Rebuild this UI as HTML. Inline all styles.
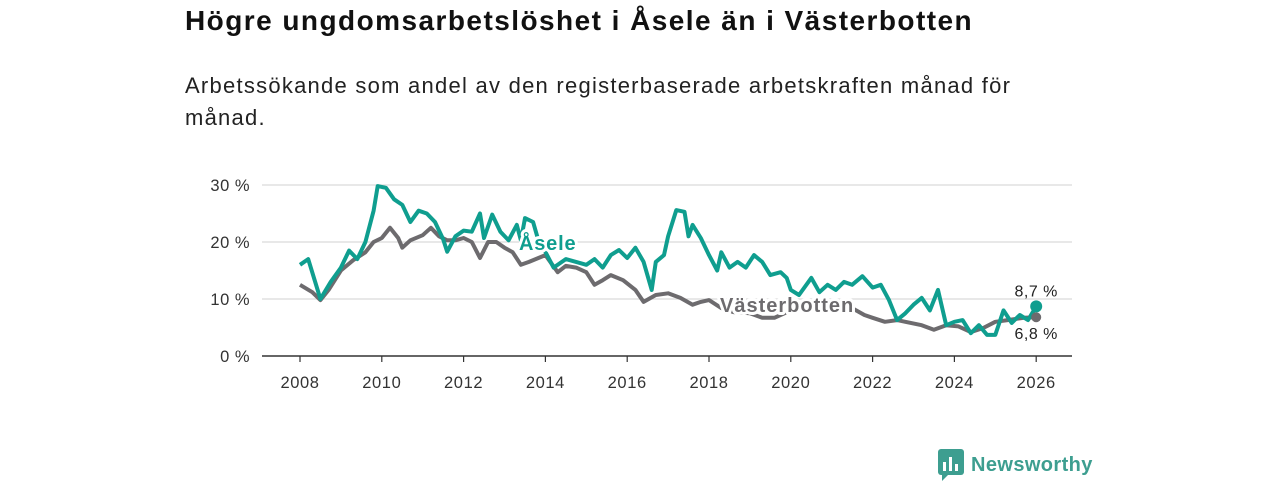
<!DOCTYPE html>
<html><head><meta charset="utf-8"><style>
body{margin:0;width:1280px;height:480px;background:#fff;font-family:"Liberation Sans","DejaVu Sans",sans-serif;overflow:hidden;position:relative}
h1{position:absolute;left:185px;top:5px;margin:0;font-size:28px;font-weight:bold;color:#111;letter-spacing:1.45px;white-space:nowrap}
p.sub{position:absolute;left:185px;top:70px;margin:0;font-size:22px;line-height:32px;color:#222;width:860px;letter-spacing:1.25px}
svg{position:absolute;left:0;top:0}
</style></head><body>
<h1>Högre ungdomsarbetslöshet i Åsele än i Västerbotten</h1>
<p class="sub">Arbetssökande som andel av den registerbaserade arbetskraften månad för månad.</p>
<svg id="chart" width="1280" height="480"></svg>
<script>
const yTicks=[0,10,20,30];
const yTickLabels=["0 %","10 %","20 %","30 %"];
const xTicks=[2008,2010,2012,2014,2016,2018,2020,2022,2024,2026];
const aseleT=[2008.0,2008.2,2008.5,2008.75,2009.0,2009.2,2009.4,2009.6,2009.8,2009.9,2010.1,2010.3,2010.5,2010.7,2010.9,2011.1,2011.3,2011.5,2011.6,2011.8,2012.0,2012.2,2012.4,2012.5,2012.7,2012.9,2013.1,2013.3,2013.4,2013.5,2013.7,2013.8,2014.2,2014.5,2014.75,2015.0,2015.2,2015.4,2015.6,2015.8,2016.0,2016.2,2016.4,2016.6,2016.7,2016.9,2017.0,2017.2,2017.4,2017.5,2017.6,2017.8,2018.0,2018.2,2018.3,2018.5,2018.7,2018.9,2019.1,2019.3,2019.5,2019.75,2019.9,2020.0,2020.2,2020.5,2020.7,2020.9,2021.1,2021.3,2021.5,2021.75,2022.0,2022.2,2022.4,2022.6,2022.8,2023.0,2023.2,2023.4,2023.6,2023.8,2024.0,2024.2,2024.4,2024.6,2024.8,2025.0,2025.2,2025.4,2025.6,2025.8,2026.0];
const aseleV=[16,17,10,13,15.5,18.5,17,20,25.5,29.8,29.5,27.5,26.5,23.5,25.5,25,23.5,20.5,18.3,21,22,21.8,25,20.7,24.8,21.8,20.3,23,20.3,24.2,23.5,21,15.5,17,16.5,16,17,15.5,17.7,18.6,17.2,19,16.5,11.6,16.5,17.7,21,25.6,25.3,21,23,20.7,17.7,15,18.2,15.5,16.5,15.5,17.7,16.5,14.2,14.7,13.7,11.6,10.7,13.7,11.2,12.5,11.6,13,12.5,14,12,12.5,9.8,6.3,7.5,9,10.2,8,11.6,5.4,6,6.3,4,5.4,3.7,3.7,8,5.8,7.2,6.3,8.7];
const vbT=[2008.0,2008.3,2008.5,2008.7,2009.0,2009.3,2009.6,2009.8,2010.0,2010.2,2010.4,2010.5,2010.7,2011.0,2011.2,2011.4,2011.6,2011.8,2012.0,2012.2,2012.4,2012.6,2012.8,2013.0,2013.2,2013.4,2013.6,2014.0,2014.3,2014.5,2014.75,2015.0,2015.2,2015.4,2015.6,2015.9,2016.2,2016.4,2016.7,2017.0,2017.3,2017.6,2017.8,2018.0,2018.3,2018.6,2019.0,2019.3,2019.6,2020.0,2020.5,2021.0,2021.5,2021.8,2022.0,2022.3,2022.6,2022.8,2023.2,2023.5,2023.8,2024.1,2024.4,2024.7,2025.0,2025.3,2025.7,2026.0];
const vbV=[12.5,11.2,9.8,11.6,15,16.8,18.2,20,20.7,22.5,20.7,19,20.3,21.2,22.5,21,20.3,20.3,20.7,20,17.2,20,20,19,18.2,16,16.5,17.7,14.7,15.8,15.5,14.7,12.5,13.3,14.2,13.3,11.6,9.5,10.7,11,10.2,9,9.5,9.8,8.4,7.7,7.5,6.7,6.7,8,9,9,8.4,7.2,6.7,6,6.3,6,5.4,4.6,5.4,5.2,4.2,4.9,6,6.3,6.7,6.8];
const NS="http://www.w3.org/2000/svg";
const svg=document.getElementById('chart');
const X=t=>300+(t-2008)*40.9, Y=v=>356-v*5.7;
function mk(tag,attrs){const e=document.createElementNS(NS,tag);for(const k in attrs)e.setAttribute(k,attrs[k]);svg.appendChild(e);return e;}
yTicks.forEach((v,i)=>{
 if(v>0){const g=mk('line',{x1:262,x2:1072,y1:Y(v),y2:Y(v),stroke:'#d9d9d9','stroke-width':1.3});
 
 }
 const t=mk('text',{x:250,y:Y(v)+6,'text-anchor':'end','font-size':16.5,fill:'#333','letter-spacing':0.5});t.textContent=yTickLabels[i];
 
 
});
const ax=mk('line',{x1:262,x2:1072,y1:356,y2:356,stroke:'#333','stroke-width':1.5});


xTicks.forEach(yr=>{
 const tk=mk('line',{x1:X(yr),x2:X(yr),y1:356,y2:362,stroke:'#333','stroke-width':1.2});
 
 
 const t=mk('text',{x:X(yr),y:388,'text-anchor':'middle','font-size':16.5,fill:'#333','letter-spacing':0.6});t.textContent=yr;
 
 
});
function path(T,V){return T.map((t,i)=>(i?'L':'M')+X(t).toFixed(1)+','+Y(V[i]).toFixed(1)).join('');}
const l2=mk('path',{d:path(vbT,vbV),fill:'none',stroke:'#6d6b6e','stroke-width':4,'stroke-linejoin':'round'});


const l1=mk('path',{d:path(aseleT,aseleV),fill:'none',stroke:'#0f9e8f','stroke-width':4,'stroke-linejoin':'round'});


const la=aseleV.length-1,lv=vbV.length-1;
const d2=mk('circle',{cx:X(vbT[lv]),cy:Y(vbV[lv]),r:5,fill:'#6d6b6e'});


const d1=mk('circle',{cx:X(aseleT[la]),cy:Y(aseleV[la]),r:6,fill:'#0f9e8f'});


const e1=mk('text',{x:X(aseleT[la]),y:Y(aseleV[la])-10,'text-anchor':'middle','font-size':16,fill:'#222','letter-spacing':0.5});e1.textContent=aseleV[la].toFixed(1).replace('.',',')+' %';


const e2=mk('text',{x:X(vbT[lv]),y:Y(vbV[lv])+22,'text-anchor':'middle','font-size':16,fill:'#222','letter-spacing':0.5});e2.textContent=vbV[lv].toFixed(1).replace('.',',')+' %';


const s1=mk('text',{x:519,y:250,'font-size':20,'font-weight':'bold',fill:'#0f9e8f',stroke:'#fff','stroke-width':6,'paint-order':'stroke','stroke-linejoin':'round','letter-spacing':0.8});s1.textContent='Åsele';


const s2=mk('text',{x:720,y:312,'font-size':20,'font-weight':'bold',fill:'#6d6b6e',stroke:'#fff','stroke-width':6,'paint-order':'stroke','stroke-linejoin':'round','letter-spacing':1});s2.textContent='Västerbotten';


</script>
<div style="position:absolute;left:938px;top:449px;display:flex;align-items:center">
 <svg width="26" height="32" viewBox="0 0 26 32" style="position:static"><rect x="0" y="0" width="26" height="26" rx="3" fill="#3d9e90"/><path d="M4 26 L4 32 L10 26Z" fill="#3d9e90"/><rect x="5" y="13" width="3" height="9" fill="#fff"/><rect x="11" y="8" width="3" height="14" fill="#fff"/><rect x="17" y="15" width="3" height="7" fill="#fff"/></svg>
 <span style="margin-left:7px;font-size:20px;font-weight:bold;color:#3d9e90;letter-spacing:0.4px">Newsworthy</span>
</div>
</body></html>
